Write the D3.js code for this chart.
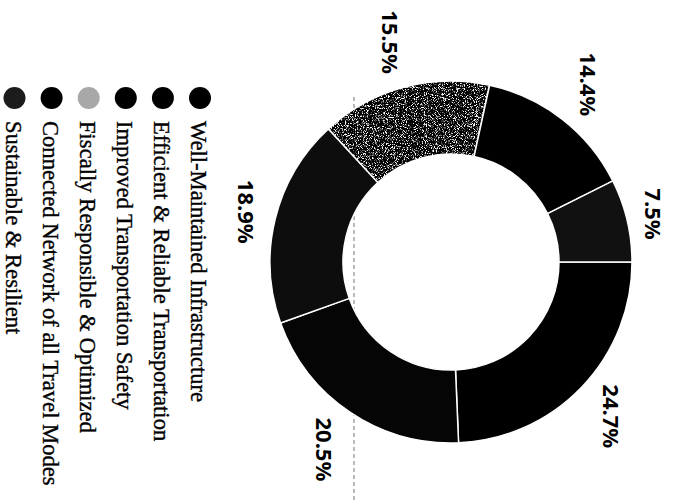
<!DOCTYPE html>
<html>
<head>
<meta charset="utf-8">
<script src="https://cdn.jsdelivr.net/npm/d3@7"></script>
<style>
  html, body { margin: 0; padding: 0; background: #fff; }
  svg { display: block; }
</style>
</head>
<body>
<svg id="chart"></svg>
<script>
// data
const categories = [
  'Well-Maintained Infrastructure',
  'Efficient & Reliable Transportation',
  'Improved Transportation Safety',
  'Fiscally Responsible & Optimized',
  'Connected Network of all Travel Modes',
  'Sustainable & Resilient'
];
const shares = [24.7, 20.5, 18.9, 15.5, 14.4, 7.5];
const shareLabels = ['24.7%', '20.5%', '18.9%', '15.5%', '14.4%', '7.5%'];
const colors = ['#000', '#050505', '#0d0d0d', '#000', '#000', '#111'];
const dotColors = ['#000', '#000', '#000', '#a8a8a8', '#000', '#1c1c1c'];

const width = 673, height = 502;
const cx = 451, cy = 262;
const innerR = 108, outerR = 181, labelGap = 14;
const glyphH = 16;

const svg = d3.select('#chart')
  .attr('width', width)
  .attr('height', height);

// speckled grey like the scanned slice
const defs = svg.append('defs');
const stipple = defs.append('filter')
  .attr('id', 'stipple')
  .attr('x', 0).attr('y', 0).attr('width', 1).attr('height', 1);
stipple.append('feTurbulence')
  .attr('type', 'fractalNoise')
  .attr('baseFrequency', 1.1)
  .attr('numOctaves', 2)
  .attr('seed', 4)
  .attr('result', 'noise');
stipple.append('feColorMatrix')
  .attr('in', 'noise')
  .attr('type', 'matrix')
  .attr('values', '0 0 0 0 0  0 0 0 0 0  0 0 0 0 0  -6 0 0 0 4.1')
  .attr('result', 'dots');
stipple.append('feComposite')
  .attr('in', 'SourceGraphic')
  .attr('in2', 'dots')
  .attr('operator', 'in');

// faint scan guide line
svg.append('line')
  .attr('x1', 354).attr('x2', 354)
  .attr('y1', 97).attr('y2', 502)
  .attr('stroke', '#777')
  .attr('stroke-width', 1)
  .attr('stroke-dasharray', '4,3');

// page is turned a quarter, so the first slice starts at 3 o'clock
const pie = d3.pie()
  .sort(null)
  .startAngle(Math.PI / 2)
  .endAngle(Math.PI / 2 + 2 * Math.PI);

const arcs = pie(shares);

const arc = d3.arc()
  .innerRadius(innerR)
  .outerRadius(outerR);

const donut = svg.append('g')
  .attr('transform', `translate(${cx}, ${cy})`);

donut.selectAll('path')
  .data(arcs)
  .join('path')
  .attr('d', arc)
  .attr('fill', (d, i) => colors[i])
  .attr('filter', (d, i) => i == 3 ? 'url(#stipple)' : null)
  .attr('stroke', '#fff')
  .attr('stroke-width', 1.5);

const labels = donut.selectAll('text')
  .data(arcs)
  .join('text')
  .attr('text-anchor', 'middle')
  .attr('dominant-baseline', 'central')
  .style('font-family', '"Noto Sans", "Open Sans", sans-serif')
  .style('font-weight', 'bold')
  .style('font-size', '22px')
  .attr('fill', '#000')
  .text((d, i) => shareLabels[i]);

// push each label out just past the ring, using its turned box
labels.attr('transform', function(d) {
  const w = this.getComputedTextLength();
  const a = (d.startAngle + d.endAngle) / 2;
  const along = Math.abs(Math.sin(a)) * glyphH / 2 + Math.abs(Math.cos(a)) * w / 2;
  const r = outerR + labelGap + along;
  return `translate(${r * Math.sin(a)}, ${-r * Math.cos(a)}) rotate(90)`;
});

// legend, reading top to bottom
const legendX = d3.scaleLinear()
  .domain([0, categories.length - 1])
  .range([200, 14.5]);

const legend = svg.append('g')
  .selectAll('g')
  .data(categories)
  .join('g')
  .attr('transform', (d, i) => `translate(${legendX(i)}, 98)`);

legend.append('circle')
  .attr('r', 11)
  .attr('fill', (d, i) => dotColors[i]);

legend.append('text')
  .attr('transform', 'rotate(90)')
  .attr('x', 23)
  .attr('y', 9)
  .style('font-family', '"Liberation Serif", "Times New Roman", serif')
  .style('font-size', '22.6px')
  .attr('fill', '#000')
  .attr('stroke', '#000')
  .attr('stroke-width', 0.35)
  .text(d => d);
</script>
</body>
</html>
